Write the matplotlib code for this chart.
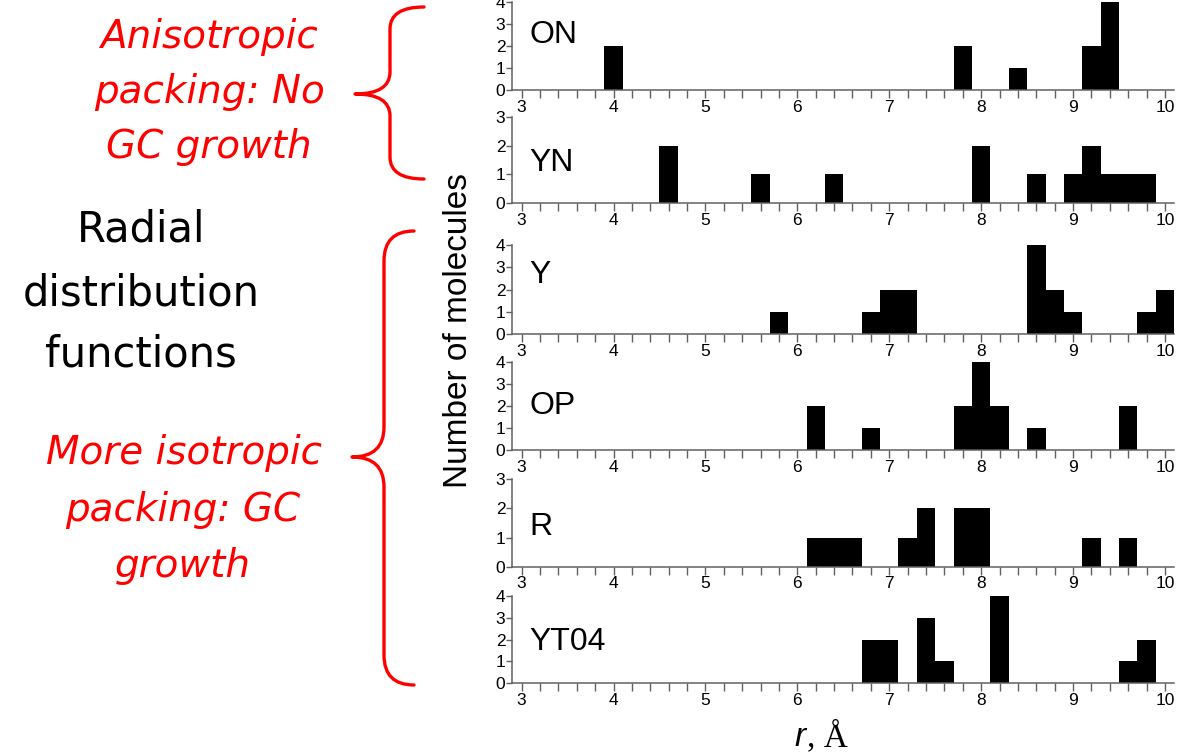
import numpy as np
import matplotlib
matplotlib.use("Agg")
import matplotlib.pyplot as plt
from matplotlib.path import Path
from matplotlib.patches import PathPatch

plt.rcParams['font.family'] = ['Liberation Sans', 'DejaVu Sans']

# histogram bins (centre of 0.2 A bin) and counts for each structure
names = ["ON", "YN", "Y", "OP", "R", "YT04"]
on_r = [4.0, 7.8, 8.4, 9.2, 9.4]
on_n = [2, 2, 1, 2, 4]
yn_r = [4.6, 5.6, 6.4, 8.0, 8.6, 9.0, 9.2, 9.4, 9.6, 9.8]
yn_n = [2, 1, 1, 2, 1, 1, 2, 1, 1, 1]
y_r = [5.8, 6.8, 7.0, 7.2, 8.6, 8.8, 9.0, 9.8, 10.0]
y_n = [1, 1, 2, 2, 4, 2, 1, 1, 2]
op_r = [6.2, 6.8, 7.8, 8.0, 8.2, 8.6, 9.6]
op_n = [2, 1, 2, 4, 2, 1, 2]
r_r = [6.2, 6.4, 6.6, 7.2, 7.4, 7.8, 8.0, 9.2, 9.6]
r_n = [1, 1, 1, 1, 2, 2, 2, 1, 1]
yt_r = [6.8, 7.0, 7.4, 7.6, 8.2, 9.6, 9.8]
yt_n = [2, 2, 3, 1, 4, 1, 2]
ymax = [4, 3, 4, 4, 3, 4]
xticks = [3, 4, 5, 6, 7, 8, 9, 10]

series = [(on_r, on_n), (yn_r, yn_n), (y_r, y_n), (op_r, op_n), (r_r, r_n), (yt_r, yt_n)]

W, H = 1183, 752
fig = plt.figure(figsize=(W / 100, H / 100), dpi=100)

# panel extents in pixels (top, bottom)
panels = [(1.7, 90), (116.7, 203.3), (245, 334), (361.7, 450), (479.3, 566.7), (595.7, 683.3)]
label_y = [0.62, 0.46, 0.66, 0.50, 0.45, 0.47]
left_px, right_px = 512.4, 1174.2
axcol = '#606060'

for i, (top, bot) in enumerate(panels):
    ax = fig.add_axes([left_px / W, 1 - bot / H, (right_px - left_px) / W, (bot - top) / H])
    r, n = series[i]
    ax.bar(r, n, width=0.2, color='black', linewidth=0)
    ax.set_xlim(2.9, 10.1)
    ax.set_ylim(0, ymax[i])
    ax.set_xticks(xticks)
    ax.set_xticks(np.arange(3, 10.01, 0.2), minor=True)
    ax.set_yticks(range(ymax[i] + 1))
    for s in ['top', 'right']:
        ax.spines[s].set_visible(False)
    for s in ['left', 'bottom']:
        ax.spines[s].set_color(axcol)
        ax.spines[s].set_linewidth(1.1)
    ax.tick_params(axis='x', which='both', direction='out', length=5.5, width=1, color=axcol,
                   labelsize=12.5, pad=1.5)
    ax.tick_params(axis='y', direction='out', length=4, width=1, color=axcol, labelsize=12.5, pad=1)
    ax.patch.set_alpha(0)
    ax.text(0.026, label_y[i], names[i], transform=ax.transAxes, fontsize=23,
            ha='left', va='center')

fig.text(459 / W, 1 - 331 / H, 'Number of molecules', rotation=90, fontsize=24,
         ha='center', va='center')
fig.text(806 / W, 1 - 746 / H, 'r', fontsize=24, style='italic', ha='right', va='baseline')
fig.text(807 / W, 1 - 746 / H, ', Å', fontsize=24, family='Liberation Serif',
         ha='left', va='baseline')

# left-hand annotation text
red = '#ff0000'
top_lines = [("Anisotropic", 209, 37), ("packing: No", 209, 92), ("GC growth", 209, 147)]
mid_lines = [("Radial", 141, 230), ("distribution", 141, 293), ("functions", 141, 355)]
bot_lines = [("More isotropic", 184, 453), ("packing: GC", 183, 510), ("growth", 183, 566)]
for txt, x, y in top_lines + bot_lines:
    fig.text(x / W, 1 - y / H, txt, fontsize=28, color=red, style='italic',
             family='DejaVu Sans', ha='center', va='center')
for txt, x, y in mid_lines:
    fig.text(x / W, 1 - y / H, txt, fontsize=30, color='black',
             family='DejaVu Sans', ha='center', va='center')


def brace(xe, xv, xt, ytop, ytip, ybot, rad):
    pts = [(xe, ytop), (xv, ytop), (xv, ytop + rad),
           (xv, ytip - rad), (xv, ytip), (xt, ytip),
           (xv, ytip), (xv, ytip + rad),
           (xv, ybot - rad), (xv, ybot), (xe, ybot)]
    codes = [Path.MOVETO, Path.CURVE3, Path.CURVE3,
             Path.LINETO, Path.CURVE3, Path.CURVE3,
             Path.CURVE3, Path.CURVE3,
             Path.LINETO, Path.CURVE3, Path.CURVE3]
    pts = [(px / W, 1 - py / H) for px, py in pts]
    p = PathPatch(Path(pts, codes), transform=fig.transFigure, fill=False,
                  edgecolor=red, linewidth=2.4, capstyle='round', joinstyle='round')
    fig.add_artist(p)


brace(424, 390, 355, 7, 94, 179, 22)
brace(414, 384, 352, 231, 457, 685, 30)

fig.savefig('out.png', dpi=100)
